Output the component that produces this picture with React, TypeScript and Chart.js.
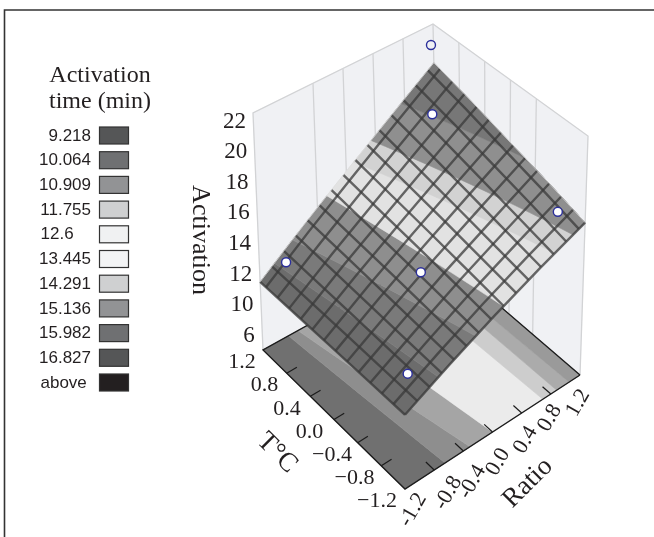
import React, { useEffect, useRef } from "react";
import { Chart, registerables } from "chart.js";

Chart.register(...registerables);

const ratioTicks = [-1.2, -0.8, -0.4, 0, 0.4, 0.8, 1.2];
const ratioLabels = ["-1.2", "-0.8", "-0.4", "0.0", "0.4", "0.8", "1.2"];
const tempTicks = [1.2, 0.8, 0.4, 0, -0.4, -0.8, -1.2];
const tempLabels = ["1.2", "0.8", "0.4", "0.0", "\u22120.4", "\u22120.8", "\u22121.2"];
const activationTicks = [22, 20, 18, 16, 14, 12, 10, 8];
const activationLabels = ["22", "20", "18", "16", "14", "12", "10", "6"];

const legendLabels = ["9.218", "10.064", "10.909", "11.755", "12.6", "13.445", "14.291", "15.136", "15.982", "16.827", "above"];
const legendColors = ["#555657", "#6f7072", "#929395", "#cfd0d1", "#f0f1f2", "#f3f4f5", "#cfd0d1", "#929395", "#6f7072", "#555657", "#231f20"];

// Surface heights on a coarse grid
const gridRatio = [-1.2, -0.6, 0, 0.6, 1.2];
const gridTemp = [-1.2, -0.6, 0, 0.6, 1.2];
const surfaceGrid = [
  [10.4, 11.85, 13.3, 14.75, 16.2],
  [10.45, 12.05, 13.7, 15.3, 17.0],
  [10.5, 12.3, 14.1, 15.9, 17.75],
  [10.55, 12.55, 14.5, 16.5, 18.55],
  [10.6, 12.8, 14.95, 17.1, 19.3],
];

// Contour bands: ratio where the band edges meet the T=-1.2 and T=+1.2 sides
const surfaceBandLowAtMinT = [-1.2, -0.75, -0.25, 0.12, 0.8, 1.04, 1.5];
const surfaceBandHighAtMinT = [-0.75, -0.25, 0.12, 0.8, 1.04, 1.5, 2.4];
const surfaceBandLowAtMaxT = [-1.2, -1.0, -0.75, -0.27, 0.1, 0.34, 0.75];
const surfaceBandHighAtMaxT = [-1.0, -0.75, -0.27, 0.1, 0.34, 0.75, 1.2];
const surfaceBandColors = ["#6c6c6c", "#7a7a7a", "#8e8e8e", "#e2e2e2", "#d2d2d2", "#8f8f8f", "#777777"];

const floorBandLowAtMinT = [-1.2, -0.65, -0.31, 0, 0.69, 0.88, 1.05];
const floorBandHighAtMinT = [-0.65, -0.31, 0, 0.69, 0.88, 1.05, 1.2];
const floorBandLowAtMaxT = [-1.2, -0.85, -0.72, -0.3, 0.62, 0.85, 1.0];
const floorBandHighAtMaxT = [-0.85, -0.72, -0.3, 0.62, 0.85, 1.0, 1.2];
const floorBandColors = ["#707070", "#8e8e8e", "#a5a5a5", "#ebebeb", "#cdcdcd", "#ababab", "#9a9a9a"];

// Experimental points
const pointRatio = [1, -1, 1, -1, 0, 1];
const pointTemp = [1, -1, -1, 1, 0, 1];
const pointActivation = [21.7, 11.7, 16.8, 12.1, 12.2, 16.9];

const meshRatioLines = 15;
const meshTempLines = 13;
const meshRatioStep = 0.1655;
const meshTempStep = 0.192;

const FLOOR = { mm: [405, 489], pm: [580, 375], mp: [263, 350], pp: [438, 253] };
const TOP = { mm: [405, 219], pm: [588, 136], mp: [253, 113], pp: [433, 24] };
const Z_MIN = 6;
const Z_MAX = 22;
const LIMIT = 1.2;
const RATIO_NUDGE_X = [8, 14, 9, 5.5, 4, -1, -2];
const RATIO_NUDGE_Y = [21, 23, 31, 30, 27, 24, 28];

function bilinear(c: any, r: number, t: number) {
  const u = (r + LIMIT) / (2 * LIMIT);
  const v = (t + LIMIT) / (2 * LIMIT);
  return [0, 1].map(
    (k) => (1 - u) * (1 - v) * c.mm[k] + u * (1 - v) * c.pm[k] + (1 - u) * v * c.mp[k] + u * v * c.pp[k]
  );
}

function project(r: number, t: number, z: number) {
  const f = bilinear(FLOOR, r, t);
  const g = bilinear(TOP, r, t);
  const h = (z - Z_MIN) / (Z_MAX - Z_MIN);
  return { x: f[0] + h * (g[0] - f[0]), y: f[1] + h * (g[1] - f[1]) };
}

function surfaceAt(r: number, t: number) {
  const seg = (list: number[], v: number) => {
    let i = 0;
    while (i < list.length - 2 && v > list[i + 1]) i++;
    return [i, (v - list[i]) / (list[i + 1] - list[i])];
  };
  const [i, a] = seg(gridRatio, r);
  const [j, b] = seg(gridTemp, t);
  return (
    (1 - a) * (1 - b) * surfaceGrid[j][i] +
    a * (1 - b) * surfaceGrid[j][i + 1] +
    (1 - a) * b * surfaceGrid[j + 1][i] +
    a * b * surfaceGrid[j + 1][i + 1]
  );
}

function poly(points: any[], color: string) {
  return {
    data: [...points, points[0]],
    showLine: true,
    fill: "shape",
    backgroundColor: color,
    borderColor: color,
    borderWidth: 0.6,
    pointRadius: 0,
    tension: 0,
  };
}

function line(points: any[], color: string, width: number) {
  return { data: points, showLine: true, fill: false, borderColor: color, borderWidth: width, pointRadius: 0, tension: 0 };
}

function bandPolygon(lowA: number, highA: number, lowB: number, highB: number, height: (r: number, t: number) => number) {
  const pts: any[] = [];
  const steps = 14;
  const clampR = (r: number) => Math.max(-LIMIT, Math.min(LIMIT, r));
  for (let s = 0; s <= steps; s++) {
    const v = s / steps;
    const t = -LIMIT + 2 * LIMIT * v;
    const r = clampR(lowA + (lowB - lowA) * v);
    pts.push(project(r, t, height(r, t)));
  }
  for (let s = steps; s >= 0; s--) {
    const v = s / steps;
    const t = -LIMIT + 2 * LIMIT * v;
    const r = clampR(highA + (highB - highA) * v);
    pts.push(project(r, t, height(r, t)));
  }
  return pts;
}

function buildDatasets() {
  const out: any[] = [];
  const wallC = "#d2d3d5";
  // walls
  out.push(
    poly(
      [project(-LIMIT, LIMIT, Z_MAX), project(LIMIT, LIMIT, Z_MAX), project(LIMIT, -LIMIT, Z_MAX), project(LIMIT, -LIMIT, Z_MIN), project(LIMIT, LIMIT, Z_MIN), project(-LIMIT, LIMIT, Z_MIN)],
      "#f0f1f4"
    )
  );
  out.push(line([project(-LIMIT, LIMIT, Z_MIN), project(-LIMIT, LIMIT, Z_MAX), project(LIMIT, LIMIT, Z_MAX), project(LIMIT, -LIMIT, Z_MAX), project(LIMIT, -LIMIT, Z_MIN)], wallC, 1.3));
  out.push(line([project(LIMIT, LIMIT, Z_MIN), project(LIMIT, LIMIT, Z_MAX)], wallC, 1.3));
  ratioTicks.slice(2, 6).forEach((r) => out.push(line([project(r, LIMIT, Z_MIN), project(r, LIMIT, Z_MAX)], wallC, 1.3)));
  tempTicks.slice(1, 5).forEach((t) => out.push(line([project(LIMIT, t, Z_MIN), project(LIMIT, t, Z_MAX)], wallC, 1.3)));

  // floor
  floorBandColors.forEach((c, i) => {
    out.push(poly(bandPolygon(floorBandLowAtMinT[i], floorBandHighAtMinT[i], floorBandLowAtMaxT[i], floorBandHighAtMaxT[i], () => Z_MIN), c));
  });
  const edge = "#1c1c1c";
  out.push(
    line([project(LIMIT, -LIMIT, Z_MIN), project(LIMIT, LIMIT, Z_MIN), project(-LIMIT, LIMIT, Z_MIN), project(-LIMIT, -LIMIT, Z_MIN), project(LIMIT, -LIMIT, Z_MIN)], edge, 1.4)
  );
  ratioTicks.slice(1, 6).forEach((r) => {
    const a = project(r, -LIMIT, Z_MIN);
    const b = project(r, -LIMIT + 0.14, Z_MIN);
    out.push(line([a, b], edge, 1.2));
  });
  tempTicks.slice(1, 6).forEach((t) => {
    const a = project(-LIMIT, t, Z_MIN);
    const b = project(-LIMIT + 0.14, t, Z_MIN);
    out.push(line([a, b], edge, 1.2));
  });

  // surface
  surfaceBandColors.forEach((c, i) => {
    out.push(poly(bandPolygon(surfaceBandLowAtMinT[i], surfaceBandHighAtMinT[i], surfaceBandLowAtMaxT[i], surfaceBandHighAtMaxT[i], surfaceAt), c));
  });
  const mesh = "rgba(58,58,58,0.75)";
  for (let i = 0; i < meshRatioLines; i++) {
    const r = -LIMIT + meshRatioStep * i;
    const pts = gridTemp.map((t) => project(r, t, surfaceAt(r, t)));
    out.push(line(pts, mesh, 2.4));
  }
  for (let j = 0; j < meshTempLines; j++) {
    const t = -LIMIT + meshTempStep * j;
    const pts = gridRatio.map((r) => project(r, t, surfaceAt(r, t)));
    out.push(line(pts, mesh, 2.4));
  }
  // pale fringe along the two far sides of the surface
  const halo = "rgba(222,222,222,0.75)";
  out.push(line(gridRatio.map((r) => project(r, LIMIT, surfaceAt(r, LIMIT))), halo, 1));
  out.push(line(gridTemp.map((t) => project(LIMIT, t, surfaceAt(LIMIT, t))), halo, 1));

  // frame
  out.push(line([{ x: 4.5, y: 537 }, { x: 4.5, y: 10 }, { x: 654, y: 10 }], "#333333", 1.6));

  // experimental points
  out.push({
    data: pointRatio.map((r, i) => project(r, pointTemp[i], pointActivation[i])),
    showLine: false,
    pointRadius: 4.5,
    pointBackgroundColor: pointRatio.map((_, i) => (i === 0 ? "#f0f1f4" : "#ffffff")),
    pointBorderColor: "#2b2f9b",
    pointBorderWidth: 1.4,
  });
  return out.reverse();
}

const SERIF = '"Liberation Serif"';
const SANS = '"Liberation Sans"';

const textPlugin = {
  id: "chartText",
  afterDraw(chart: any) {
    const ctx = chart.ctx;
    ctx.save();
    ctx.fillStyle = "#231f20";
    ctx.textBaseline = "middle";
    const xs = chart.scales.x;
    const ys = chart.scales.y;
    const px = (p: any) => [xs.getPixelForValue(p.x), ys.getPixelForValue(p.y)];

    // colour legend
    ctx.textAlign = "center";
    ctx.font = `24px ${SERIF}`;
    ctx.fillText("Activation", 100, 76);
    ctx.fillText("time (min)", 100, 102);
    ctx.font = `17px ${SANS}`;
    legendLabels.forEach((l, i) => {
      const y = 136 + 24.7 * i;
      if (l === "12.6" || l === "above") {
        ctx.textAlign = "left";
        ctx.fillStyle = "#231f20";
        ctx.fillText(l, 40.5, y);
      } else {
        ctx.textAlign = "right";
        ctx.fillStyle = "#231f20";
        ctx.fillText(l, 91, y);
      }
      ctx.fillStyle = legendColors[i];
      ctx.fillRect(99.5, y - 9, 29, 17);
      ctx.strokeStyle = "#333333";
      ctx.lineWidth = 1.2;
      ctx.strokeRect(99.5, y - 9, 29, 17);
    });

    // activation axis
    ctx.fillStyle = "#231f20";
    ctx.font = `23px ${SERIF}`;
    ctx.textAlign = "right";
    activationTicks.forEach((z, i) => {
      const [x, y] = px(project(-LIMIT, LIMIT, z));
      ctx.fillText(activationLabels[i], x - 7, y + 8.5 + 1 * i);
    });
    // temperature axis
    ctx.textAlign = "center";
    ctx.font = `22px ${SERIF}`;
    tempTicks.forEach((t, i) => {
      const [x, y] = px(project(-LIMIT, t, Z_MIN));
      ctx.fillText(tempLabels[i], x - 21 - (7 * i) / 6, y + 12.5);
    });
    // ratio axis
    ratioTicks.forEach((r, i) => {
      const [x, y] = px(project(r, -LIMIT, Z_MIN));
      ctx.save();
      ctx.translate(x + RATIO_NUDGE_X[i], y + RATIO_NUDGE_Y[i]);
      ctx.rotate(-(60 * Math.PI) / 180);
      ctx.fillText(ratioLabels[i], 0, 0);
      ctx.restore();
    });

    // axis titles
    ctx.font = `26px ${SERIF}`;
    ctx.save();
    ctx.translate(200, 240);
    ctx.rotate(Math.PI / 2);
    ctx.fillText("Activation", 0, 0);
    ctx.restore();
    ctx.font = `27px ${SERIF}`;
    ctx.save();
    ctx.translate(277, 453);
    ctx.rotate(Math.PI / 4);
    ctx.fillText("T\u00b0C", 0, 0);
    ctx.restore();
    ctx.save();
    ctx.translate(528, 483);
    ctx.rotate(-Math.PI / 4);
    ctx.fillText("Ratio", 0, 0);
    ctx.restore();
    ctx.restore();
  },
};

export default function App() {
  const ref = useRef<HTMLCanvasElement>(null);
  useEffect(() => {
    const chart = new Chart(ref.current as any, {
      type: "scatter",
      data: { datasets: buildDatasets() },
      options: {
        animation: false,
        responsive: false,
        layout: { padding: 0, autoPadding: false },
        plugins: { legend: { display: false }, tooltip: { enabled: false } },
        scales: {
          x: { type: "linear", min: 0, max: 654, display: false },
          y: { type: "linear", min: 0, max: 537, reverse: true, display: false },
        },
      },
      plugins: [textPlugin],
    } as any);
    return () => chart.destroy();
  }, []);
  return (
    <canvas
      ref={ref}
      width={654}
      height={537}
      style={{ position: "absolute", left: 0, top: 0, width: 654, height: 537, background: "#fff" }}
    />
  );
}
